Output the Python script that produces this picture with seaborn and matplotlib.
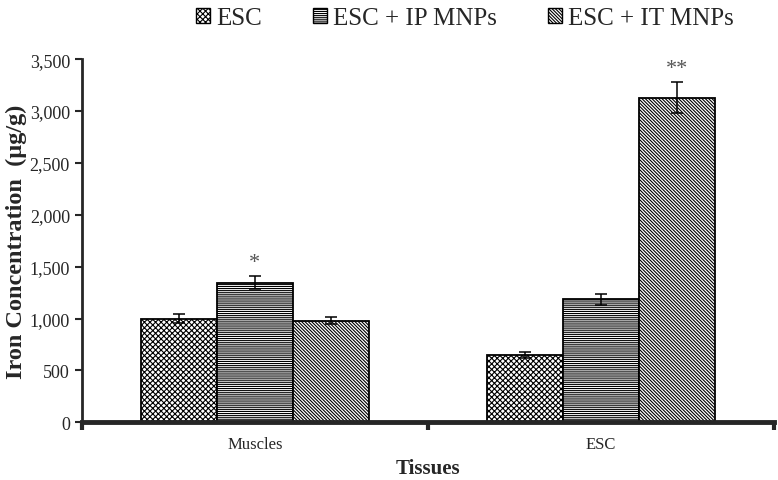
import matplotlib
matplotlib.use("Agg")
import matplotlib.pyplot as plt
from matplotlib.patches import Patch
import seaborn as sns
import pandas as pd

tissues = ["Muscles", "ESC"]
groups = ["ESC", "ESC + IP MNPs", "ESC + IT MNPs"]
esc_vals = [1000, 650]
ip_vals = [1345, 1185]
it_vals = [980, 3130]
esc_err = [40, 30]
ip_err = [60, 50]
it_err = [35, 150]
stars = {(0, 1): "*", (1, 2): "**"}
hatches = ["x" * 6, "-" * 8, "\\" * 10]

rows = []
for g, vals, errs in zip(groups, [esc_vals, ip_vals, it_vals], [esc_err, ip_err, it_err]):
    for t, v, e in zip(tissues, vals, errs):
        rows.append({"Tissue": t, "Group": g, "Value": v, "Err": e})
df = pd.DataFrame(rows)

sns.set_theme(style="ticks")
plt.rcParams['font.family'] = ['Liberation Serif', 'DejaVu Serif']
plt.rcParams['hatch.linewidth'] = 0.8
plt.rcParams['hatch.color'] = '#444444'

fig = plt.figure(figsize=(7.78, 4.81), dpi=100)
ax = fig.add_axes([0.105, 0.12, 0.89, 0.755])

sns.barplot(data=df, x="Tissue", y="Value", hue="Group", order=tissues, hue_order=groups,
            errorbar=None, width=0.66, color="white", edgecolor="black", linewidth=1.3,
            ax=ax, legend=False)

for gi, g in enumerate(groups):
    cont = ax.containers[gi]
    for ti, bar in enumerate(cont):
        bar.set_hatch(hatches[gi])
        bar.set_facecolor("white")
        x = bar.get_x() + bar.get_width() / 2
        h = bar.get_height()
        e = df[(df.Group == g) & (df.Tissue == tissues[ti])].Err.iloc[0]
        ax.errorbar(x, h, yerr=e, color="black", capsize=4, lw=1.1, capthick=1.1)
        if (ti, gi) in stars:
            ax.text(x, h + e + 40, stars[(ti, gi)], ha="center", va="bottom",
                    fontsize=16, color="#555555")

ax.set_xlim(-0.5, 1.5)
ax.set_ylim(0, 3500)
ax.set_yticks(range(0, 3501, 500))
ax.set_yticklabels([f"{v:,}" for v in range(0, 3501, 500)], fontsize=13)
ax.set_xticks([0, 1])
ax.set_xticklabels(tissues, fontsize=12)
ax.tick_params(axis="x", length=0, pad=10)
ax.tick_params(axis="y", length=5, width=1.5, direction="out")
ax.set_xticks([-0.5, 0.5, 1.5], minor=True)
ax.tick_params(axis="x", which="minor", length=6, width=3, direction="out")
ax.set_xlabel("Tissues", fontsize=15, fontweight="bold", labelpad=4)
ax.set_ylabel("Iron Concentration  (µg/g)", fontsize=17.5, fontweight="bold", labelpad=2)
sns.despine(ax=ax)
ax.spines["left"].set_linewidth(2)
ax.spines["bottom"].set_linewidth(3.5)

handles = [Patch(facecolor="white", edgecolor="black", hatch=h, linewidth=1) for h in hatches]
fig.legend(handles, groups, loc="upper center", bbox_to_anchor=(0.598, 1.03), ncol=3,
           frameon=False, fontsize=18, handlelength=0.55, handleheight=0.55,
           handletextpad=0.25, columnspacing=2.05)

fig.savefig("out.png", dpi=100)
